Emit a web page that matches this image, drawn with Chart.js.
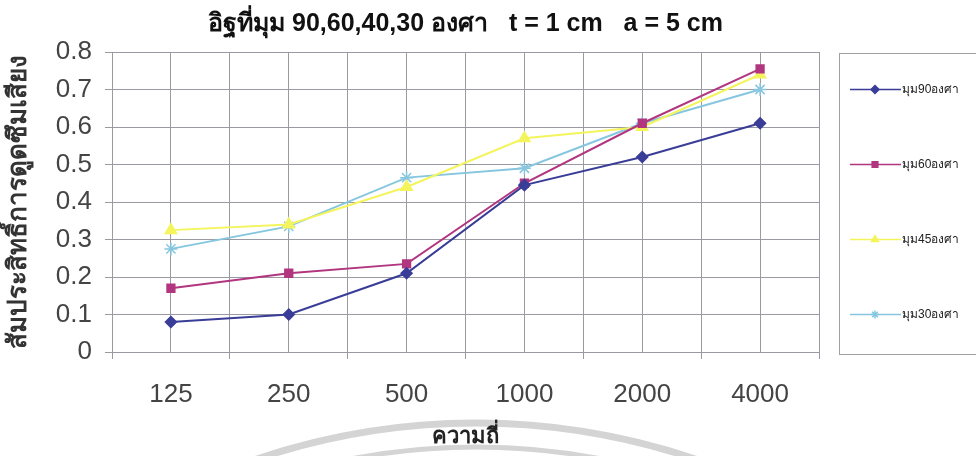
<!DOCTYPE html>
<html>
<head>
<meta charset="utf-8">
<script src="https://cdn.jsdelivr.net/npm/chart.js@4.4.1/dist/chart.umd.min.js"></script>
<style>
  html, body { margin: 0; padding: 0; background: #fff; overflow: hidden; }
  #wrap { width: 976px; height: 456px; }
</style>
</head>
<body>
<div id="wrap"><canvas id="myChart" width="976" height="456"></canvas></div>
<script>
// data
var categories = ["125", "250", "500", "1000", "2000", "4000"];
var seriesNames = ["มุม90องศา", "มุม60องศา", "มุม45องศา", "มุม30องศา"];
var angle90 = [0.08, 0.10, 0.21, 0.445, 0.52, 0.61];
var angle60 = [0.17, 0.21, 0.235, 0.45, 0.61, 0.755];
var angle45 = [0.325, 0.34, 0.44, 0.57, 0.60, 0.74];
var angle30 = [0.275, 0.335, 0.465, 0.49, 0.61, 0.70];
var yTicks = [0, 0.1, 0.2, 0.3, 0.4, 0.5, 0.6, 0.7, 0.8];

var titleText = "อิฐที่มุม 90,60,40,30 องศา   t = 1 cm   a = 5 cm";
var xTitle = "ความถี่";
var yTitle = "สัมประสิทธิ์การดูดซึมเสียง";

var FONT = "'Liberation Sans', Arial, sans-serif";
var GRID = "#9a9aa2";

function toPoints(vals) {
  return vals.map(function (v, i) { return { x: i, y: v }; });
}

// grid every half category: boundaries + centres
var xGridTicks = [];
for (var k = -1; k <= categories.length * 2 - 1; k++) xGridTicks.push(k / 2);

var datasets = [
  { label: seriesNames[0], data: toPoints(angle90), borderColor: "#3a3d98", backgroundColor: "#3a3d98", pointStyle: "rectRot", pointRadius: 5.5 },
  { label: seriesNames[1], data: toPoints(angle60), borderColor: "#b1367f", backgroundColor: "#b1367f", pointStyle: "rect", pointRadius: 5.5 },
  { label: seriesNames[2], data: toPoints(angle45), borderColor: "#f4f45c", backgroundColor: "#f4f45c", pointStyle: "triangle", pointRadius: 6.5 },
  { label: seriesNames[3], data: toPoints(angle30), borderColor: "#86c6de", backgroundColor: "#86c6de", pointStyle: "star", pointRadius: 6.5 }
];
datasets.forEach(function (d) {
  d.borderWidth = 2;
  d.pointBorderWidth = 1.5;
  d.tension = 0;
});

// faint watermark arcs at the bottom
var watermark = {
  id: "watermark",
  beforeDraw: function (chart) {
    var ctx = chart.ctx;
    ctx.save();
    ctx.strokeStyle = "#d4d4d4";
    ctx.lineWidth = 7;
    ctx.beginPath();
    ctx.arc(476, 1108, 685, Math.PI * 1.3, Math.PI * 1.7);
    ctx.stroke();
    ctx.lineWidth = 5;
    ctx.beginPath();
    ctx.arc(476, 1108, 661, Math.PI * 1.3, Math.PI * 1.7);
    ctx.stroke();
    ctx.restore();
  }
};

// chart title, centred over the plot area like the original
var topTitle = {
  id: "topTitle",
  afterDraw: function (chart) {
    var ctx = chart.ctx;
    var area = chart.chartArea;
    ctx.save();
    ctx.fillStyle = "#111";
    ctx.font = "bold 25px " + FONT;
    ctx.textAlign = "center";
    ctx.textBaseline = "middle";
    ctx.fillText(titleText, (area.left + area.right) / 2, 24);
    ctx.restore();
  }
};

// Excel style legend box: line + marker + text
var legendBox = {
  id: "legendBox",
  afterDraw: function (chart) {
    var ctx = chart.ctx;
    var area = chart.chartArea;
    var x0 = area.right + 20;
    var top = area.top + 1, bottom = area.bottom + 2;
    ctx.save();
    ctx.strokeStyle = "#a0a0a0";
    ctx.lineWidth = 1;
    ctx.strokeRect(x0 + 0.5, top + 0.5, 300, bottom - top);
    var n = chart.data.datasets.length;
    var step = (bottom - top) / n;
    chart.data.datasets.forEach(function (ds, i) {
      var y = Math.round(top + step * (i + 0.5)) - 1.5;
      ctx.strokeStyle = ds.borderColor;
      ctx.lineWidth = 1.5;
      ctx.beginPath();
      ctx.moveTo(x0 + 11, y);
      ctx.lineTo(x0 + 62, y);
      ctx.stroke();
      ctx.fillStyle = ds.backgroundColor;
      ctx.strokeStyle = ds.borderColor;
      Chart.helpers.drawPoint(ctx, { pointStyle: ds.pointStyle, radius: 4, borderWidth: 1.5, rotation: 0 }, x0 + 36, y);
      ctx.fillStyle = "#222";
      ctx.font = "12px " + FONT;
      ctx.textBaseline = "middle";
      ctx.textAlign = "left";
      ctx.fillText(ds.label, x0 + 63, y);
    });
    ctx.restore();
  }
};

new Chart("myChart", {
  type: "line",
  data: { datasets: datasets },
  plugins: [watermark, topTitle, legendBox],
  options: {
    responsive: false,
    animation: false,
    layout: { padding: { left: 0, right: 157, top: 52, bottom: 0 } },
    plugins: {
      legend: { display: false },
      tooltip: { enabled: false },
      title: { display: false }
    },
    scales: {
      x: {
        type: "linear",
        min: -0.5,
        max: categories.length - 0.5,
        afterBuildTicks: function (axis) {
          axis.ticks = xGridTicks.map(function (v) { return { value: v }; });
        },
        afterFit: function (scale) { scale.height = 104; },
        grid: {
          color: GRID,
          lineWidth: 1,
          tickLength: 7,
          tickColor: function (c) {
            return Number.isInteger(c.tick.value) ? "rgba(0,0,0,0)" : GRID;
          }
        },
        border: { color: GRID },
        ticks: {
          autoSkip: false,
          maxRotation: 0,
          padding: 20,
          color: "#444",
          font: { family: FONT, size: 26 },
          callback: function (v) {
            return Number.isInteger(v) ? categories[v] : "";
          }
        },
        title: {
          display: true,
          text: xTitle,
          color: "#222",
          font: { family: FONT, size: 22, weight: "bold" },
          padding: { top: 0, bottom: 6 }
        }
      },
      y: {
        min: 0,
        max: 0.8,
        afterBuildTicks: function (axis) {
          axis.ticks = yTicks.map(function (v) { return { value: v }; });
        },
        afterFit: function (scale) { scale.width = 112; },
        grid: { color: GRID, lineWidth: 1, tickLength: 7 },
        border: { color: GRID },
        ticks: {
          padding: 13,
          color: "#444",
          font: { family: FONT, size: 26 },
          callback: function (v) { return String(Math.round(v * 10) / 10); }
        },
        title: {
          display: true,
          text: yTitle,
          color: "#333",
          font: { family: FONT, size: 26, weight: "bold" },
          padding: { top: 3, bottom: 0 }
        }
      }
    }
  }
});
</script>
</body>
</html>
